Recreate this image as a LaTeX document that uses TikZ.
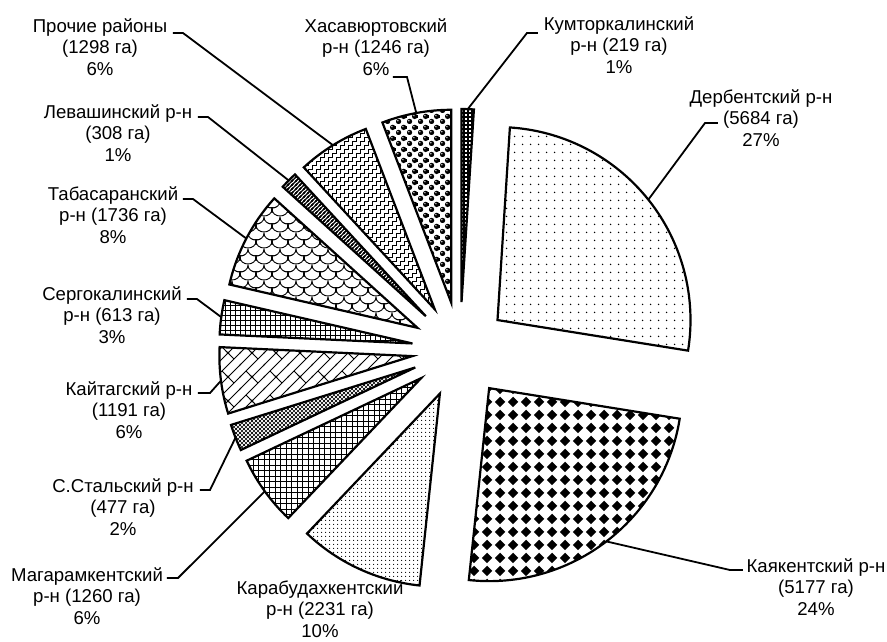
\documentclass[tikz,border=0pt]{standalone}
\usepackage{fontspec}
\setmainfont{Liberation Sans}
\usetikzlibrary{patterns}

% --- pattern definitions (units: 1pt = 1 px of the reference) ---
\pgfdeclarepatternformonly{pkumt}{\pgfqpoint{-1pt}{-1pt}}{\pgfqpoint{5pt}{5pt}}{\pgfqpoint{4pt}{4pt}}{%
  \pgfsetlinewidth{1.4pt}%
  \pgfpathmoveto{\pgfqpoint{-1pt}{0pt}}\pgfpathlineto{\pgfqpoint{5pt}{0pt}}%
  \pgfpathmoveto{\pgfqpoint{0pt}{-1pt}}\pgfpathlineto{\pgfqpoint{0pt}{5pt}}%
  \pgfusepath{stroke}}
\pgfdeclarepatternformonly{pderb}{\pgfqpoint{0pt}{0pt}}{\pgfqpoint{7.5pt}{7.5pt}}{\pgfqpoint{7.5pt}{7.5pt}}{%
  \pgfpathcircle{\pgfqpoint{3.75pt}{3.75pt}}{0.8pt}\pgfusepath{fill}}
\pgfdeclarepatternformonly{pkayak}{\pgfqpoint{0pt}{0pt}}{\pgfqpoint{13pt}{13pt}}{\pgfqpoint{13pt}{13pt}}{%
  \pgfpathmoveto{\pgfqpoint{6.5pt}{0.9pt}}\pgfpathlineto{\pgfqpoint{12.1pt}{6.5pt}}%
  \pgfpathlineto{\pgfqpoint{6.5pt}{12.1pt}}\pgfpathlineto{\pgfqpoint{0.9pt}{6.5pt}}%
  \pgfpathclose\pgfusepath{fill}}
\pgfdeclarepatternformonly{pkarab}{\pgfqpoint{0pt}{0pt}}{\pgfqpoint{4pt}{4pt}}{\pgfqpoint{4pt}{4pt}}{%
  \pgfpathcircle{\pgfqpoint{2pt}{2pt}}{0.7pt}\pgfusepath{fill}}
\pgfdeclarepatternformonly{pmagar}{\pgfqpoint{-1pt}{-1pt}}{\pgfqpoint{6.5pt}{6.5pt}}{\pgfqpoint{5.5pt}{5.5pt}}{%
  \pgfsetlinewidth{1pt}%
  \pgfpathmoveto{\pgfqpoint{-1pt}{0pt}}\pgfpathlineto{\pgfqpoint{6.5pt}{0pt}}%
  \pgfpathmoveto{\pgfqpoint{0pt}{-1pt}}\pgfpathlineto{\pgfqpoint{0pt}{6.5pt}}%
  \pgfusepath{stroke}}
\pgfdeclarepatternformonly{psergok}{\pgfqpoint{-1pt}{-1pt}}{\pgfqpoint{6pt}{6pt}}{\pgfqpoint{5pt}{5pt}}{%
  \pgfsetlinewidth{1pt}%
  \pgfpathmoveto{\pgfqpoint{-1pt}{0pt}}\pgfpathlineto{\pgfqpoint{6pt}{0pt}}%
  \pgfpathmoveto{\pgfqpoint{0pt}{-1pt}}\pgfpathlineto{\pgfqpoint{0pt}{6pt}}%
  \pgfusepath{stroke}}
\pgfdeclarepatternformonly{psstal}{\pgfqpoint{-1pt}{-1pt}}{\pgfqpoint{5pt}{5pt}}{\pgfqpoint{4pt}{4pt}}{%
  \pgfsetlinewidth{0.7pt}%
  \pgfpathmoveto{\pgfqpoint{-0.5pt}{-0.5pt}}\pgfpathlineto{\pgfqpoint{4.5pt}{4.5pt}}%
  \pgfpathmoveto{\pgfqpoint{-0.5pt}{4.5pt}}\pgfpathlineto{\pgfqpoint{4.5pt}{-0.5pt}}%
  \pgfusepath{stroke}}
\pgfdeclarepatternformonly{pkaitag}{\pgfqpoint{-1pt}{-1pt}}{\pgfqpoint{25pt}{25pt}}{\pgfqpoint{24pt}{24pt}}{%
  \pgfsetlinewidth{0.9pt}%
  \pgfpathmoveto{\pgfqpoint{-1pt}{-1pt}}\pgfpathlineto{\pgfqpoint{25pt}{25pt}}%
  \pgfpathmoveto{\pgfqpoint{-1pt}{11pt}}\pgfpathlineto{\pgfqpoint{13pt}{25pt}}%
  \pgfpathmoveto{\pgfqpoint{11pt}{-1pt}}\pgfpathlineto{\pgfqpoint{25pt}{13pt}}%
  \pgfpathmoveto{\pgfqpoint{6pt}{6pt}}\pgfpathlineto{\pgfqpoint{12pt}{0pt}}%
  \pgfpathmoveto{\pgfqpoint{18pt}{18pt}}\pgfpathlineto{\pgfqpoint{12pt}{24pt}}%
  \pgfpathmoveto{\pgfqpoint{18pt}{-6pt}}\pgfpathlineto{\pgfqpoint{12pt}{0pt}}%
  \pgfpathmoveto{\pgfqpoint{6pt}{30pt}}\pgfpathlineto{\pgfqpoint{12pt}{24pt}}%
  \pgfusepath{stroke}}
\newcommand\shingleU[2]{%
  \pgfpathmoveto{\pgfqpoint{#1pt}{#2pt}}%
  \pgfpathcurveto{\pgfqpoint{#1pt}{\dimexpr#2pt-9.3pt\relax}}%
    {\pgfqpoint{\dimexpr#1pt+16pt\relax}{\dimexpr#2pt-9.3pt\relax}}%
    {\pgfqpoint{\dimexpr#1pt+16pt\relax}{#2pt}}}
\pgfdeclarepatternformonly{ptabas}{\pgfqpoint{-1pt}{-1pt}}{\pgfqpoint{17pt}{17pt}}{\pgfqpoint{16pt}{16pt}}{%
  \pgfsetlinewidth{0.9pt}%
  \shingleU{-16}{16}\shingleU{0}{16}\shingleU{16}{16}%
  \shingleU{-8}{8}\shingleU{8}{8}%
  \shingleU{-16}{0}\shingleU{0}{0}\shingleU{16}{0}%
  \shingleU{-8}{24}\shingleU{8}{24}%
  \pgfusepath{stroke}}
\pgfdeclarepatternformonly{plevash}{\pgfqpoint{-1pt}{-1pt}}{\pgfqpoint{5pt}{5pt}}{\pgfqpoint{4pt}{4pt}}{%
  \pgfsetlinewidth{1.4pt}%
  \pgfpathmoveto{\pgfqpoint{-1pt}{-1pt}}\pgfpathlineto{\pgfqpoint{5pt}{5pt}}%
  \pgfpathmoveto{\pgfqpoint{3pt}{-1pt}}\pgfpathlineto{\pgfqpoint{5pt}{1pt}}%
  \pgfpathmoveto{\pgfqpoint{-1pt}{3pt}}\pgfpathlineto{\pgfqpoint{1pt}{5pt}}%
  \pgfusepath{stroke}}
\pgfdeclarepatternformonly{pothers}{\pgfqpoint{-1pt}{-1pt}}{\pgfqpoint{9pt}{9pt}}{\pgfqpoint{8pt}{8pt}}{%
  \pgfsetlinewidth{0.8pt}%
  \pgfpathmoveto{\pgfqpoint{0pt}{0pt}}\pgfpathlineto{\pgfqpoint{0pt}{4pt}}%
  \pgfpathlineto{\pgfqpoint{4pt}{4pt}}\pgfpathlineto{\pgfqpoint{4pt}{8pt}}\pgfpathlineto{\pgfqpoint{8pt}{8pt}}%
  \pgfpathlineto{\pgfqpoint{8pt}{9pt}}%
  \pgfpathmoveto{\pgfqpoint{4pt}{-1pt}}\pgfpathlineto{\pgfqpoint{4pt}{0pt}}\pgfpathlineto{\pgfqpoint{8pt}{0pt}}%
  \pgfpathlineto{\pgfqpoint{8pt}{4pt}}\pgfpathlineto{\pgfqpoint{9pt}{4pt}}%
  \pgfpathmoveto{\pgfqpoint{-1pt}{8pt}}\pgfpathlineto{\pgfqpoint{0pt}{8pt}}\pgfpathlineto{\pgfqpoint{0pt}{9pt}}%
  \pgfpathmoveto{\pgfqpoint{-1pt}{0pt}}\pgfpathlineto{\pgfqpoint{0pt}{0pt}}%
  \pgfusepath{stroke}}
\pgfdeclarepatterninherentlycolored{pkhasav}{\pgfqpoint{0pt}{0pt}}{\pgfqpoint{11pt}{11pt}}{\pgfqpoint{11pt}{11pt}}{%
  \pgfsetfillcolor{black}%
  \pgfpathcircle{\pgfqpoint{2.75pt}{2.75pt}}{2.9pt}%
  \pgfpathcircle{\pgfqpoint{8.25pt}{8.25pt}}{2.9pt}%
  \pgfusepath{fill}%
  \pgfsetfillcolor{white}%
  \pgfpathcircle{\pgfqpoint{2.0pt}{3.5pt}}{0.8pt}%
  \pgfpathcircle{\pgfqpoint{7.5pt}{9.0pt}}{0.8pt}%
  \pgfusepath{fill}}

\begin{document}
\begin{tikzpicture}[x=1pt,y=1pt,
  pieslice/.style={draw=black, line width=2.2pt},
  leader/.style={draw=black, line width=1.8pt},
  lbl/.style={align=center, inner sep=0pt, font=\fontsize{18.6}{21.5}\selectfont}]
\useasboundingbox (-460,-291) rectangle (427,350);

% --- exploded pie slices (centre (0,0), radius 193, explosion 48) ---
\draw[pieslice, pattern=pkumt]   (88.16:48)   -- ++(90:193)     arc[start angle=90,     end angle=86.32,   radius=193] -- cycle;
\draw[pieslice, pattern=pderb]   (38.60:48)   -- ++(86.32:193)  arc[start angle=86.32,  end angle=-9.12,   radius=193] -- cycle;
\draw[pieslice, pattern=pkayak]  (-52.59:48)  -- ++(-9.12:193)  arc[start angle=-9.12,  end angle=-96.05,  radius=193] -- cycle;
\draw[pieslice, pattern=pkarab]  (-114.78:48) -- ++(-96.05:193) arc[start angle=-96.05, end angle=-133.51, radius=193] -- cycle;
\draw[pieslice, pattern=pmagar]  (-144.09:48) -- ++(-133.51:193) arc[start angle=-133.51, end angle=-154.67, radius=193] -- cycle;
\draw[pieslice, pattern=psstal]  (-158.68:48) -- ++(-154.67:193) arc[start angle=-154.67, end angle=-162.68, radius=193] -- cycle;
\draw[pieslice, pattern=pkaitag] (-172.68:48) -- ++(-162.68:193) arc[start angle=-162.68, end angle=-182.68, radius=193] -- cycle;
\draw[pieslice, pattern=psergok] (-187.83:48) -- ++(-182.68:193) arc[start angle=-182.68, end angle=-192.97, radius=193] -- cycle;
\draw[pieslice, pattern=ptabas]  (-207.55:48) -- ++(-192.97:193) arc[start angle=-192.97, end angle=-222.12, radius=193] -- cycle;
\draw[pieslice, pattern=plevash] (-224.71:48) -- ++(-222.12:193) arc[start angle=-222.12, end angle=-227.29, radius=193] -- cycle;
\draw[pieslice, pattern=pothers] (-238.19:48) -- ++(-227.29:193) arc[start angle=-227.29, end angle=-249.09, radius=193] -- cycle;
\draw[pieslice, pattern=pkhasav] (-259.55:48) -- ++(-249.09:193) arc[start angle=-249.09, end angle=-270,    radius=193] -- cycle;

% --- labels ---
\node[lbl] (lOth)  at (-360,303) {Прочие районы\\(1298 га)\\6\%};
\node[lbl] (lLev)  at (-342,217) {Левашинский р-н\\(308 га)\\1\%};
\node[lbl] (lTab)  at (-347,135) {Табасаранский\\р-н (1736 га)\\8\%};
\node[lbl] (lKhas) at (-84,303)  {Хасавюртовский\\р-н (1246 га)\\6\%};
\node[lbl] (lKum)  at (159,305)  {Кумторкалинский\\р-н (219 га)\\1\%};
\node[lbl] (lDer)  at (301,232)  {Дербентский р-н\\(5684 га)\\27\%};
\node[lbl] (lSer)  at (-348,35)  {Сергокалинский\\р-н (613 га)\\3\%};
\node[lbl] (lKai)  at (-331,-60) {Кайтагский р-н\\(1191 га)\\6\%};
\node[lbl] (lSst)  at (-337,-157) {С.Стальский р-н\\(477 га)\\2\%};
\node[lbl] (lMag)  at (-373,-246) {Магарамкентский\\р-н (1260 га)\\6\%};
\node[lbl] (lKar)  at (-140,-259) {Карабудахкентский\\р-н (2231 га)\\10\%};
\node[lbl] (lKay)  at (356,-237) {Каякентский р-н\\(5177 га)\\24\%};

% --- leader lines ---
\coordinate (oA) at (-287,317); \coordinate (oB) at (-277,317); \coordinate (oE) at (-238.19:241);
\coordinate (vA) at (-262,233); \coordinate (vB) at (-252,233); \coordinate (vE) at (-224.71:241);
\coordinate (tA) at (-277,151); \coordinate (tB) at (-267,151); \coordinate (tE) at (-207.55:241);
\coordinate (hA) at (-67,273);  \coordinate (hB) at (-53,273);  \coordinate (hE) at (-259.55:241);
\coordinate (kA) at (78,317);   \coordinate (kB) at (67,317);   \coordinate (kE) at (88.16:241);
\coordinate (dA) at (258,227);  \coordinate (dB) at (245,227);  \coordinate (dE) at (38.60:241);
\coordinate (sA) at (-273,51);  \coordinate (sB) at (-263,51);  \coordinate (sE) at (-187.83:241);
\coordinate (gA) at (-262,-43); \coordinate (gB) at (-250,-43); \coordinate (gE) at (-172.68:241);
\coordinate (cA) at (-260,-140); \coordinate (cB) at (-250,-140); \coordinate (cE) at (-158.68:241);
\coordinate (mA) at (-293,-228); \coordinate (mB) at (-282,-228); \coordinate (mE) at (-144.09:241);
\coordinate (yA) at (283,-220); \coordinate (yB) at (270,-220); \coordinate (yE) at (-52.59:241);

\draw[leader] (oA) -- (oB) -- (oE);
\draw[leader] (vA) -- (vB) -- (vE);
\draw[leader] (tA) -- (tB) -- (tE);
\draw[leader] (hA) -- (hB) -- (hE);
\draw[leader] (kA) -- (kB) -- (kE);
\draw[leader] (dA) -- (dB) -- (dE);
\draw[leader] (sA) -- (sB) -- (sE);
\draw[leader] (gA) -- (gB) -- (gE);
\draw[leader] (cA) -- (cB) -- (cE);
\draw[leader] (mA) -- (mB) -- (mE);
\draw[leader] (yA) -- (yB) -- (yE);
\end{tikzpicture}
\end{document}
